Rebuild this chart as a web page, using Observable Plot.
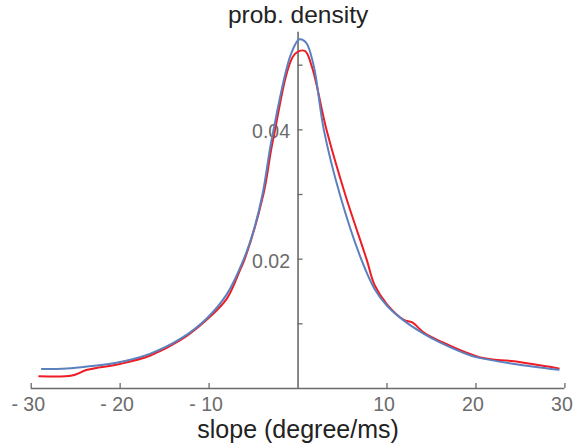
<!DOCTYPE html>
<html><head><meta charset="utf-8">
<script src="https://cdn.jsdelivr.net/npm/d3@7"></script>
<script src="https://cdn.jsdelivr.net/npm/@observablehq/plot@0.6"></script>
<style>html,body{margin:0;padding:0;background:#fff}</style>
</head><body><div id="chart"></div>
<script>
// Series (slope in degree/ms, probability density)
const blueX = [-28.8,-26,-23.7,-20,-16.6,-13.2,-10.3,-8,-6.1,-5,-4,-2.9,-0.8,0.15,0.9,1.76,2.9,4.7,7.1,8.6,10,11.9,14.1,16,19.4,20.5,24.3,29.3];
const blueY = [0.0030,0.0031,0.0034,0.0041,0.0054,0.0077,0.0108,0.0146,0.0200,0.0244,0.0300,0.0390,0.0517,0.0540,0.0535,0.0499,0.0400,0.0300,0.0200,0.0154,0.0128,0.0105,0.0085,0.0071,0.0051,0.0047,0.0038,0.0029];
const redX = [-29.1,-25.4,-23.7,-20,-16.6,-13.2,-10.3,-8,-6.5,-6,-3.9,-2.8,-0.38,0.75,1.57,3.2,5.3,7.7,8.6,10,11.9,12.8,14.1,16,20.5,24.3,29.3];
const redY = [0.0019,0.0020,0.0029,0.0038,0.0051,0.0075,0.0106,0.0139,0.0184,0.0200,0.0300,0.0385,0.0517,0.0522,0.0497,0.0400,0.0300,0.0200,0.0160,0.0130,0.0106,0.01025,0.0087,0.0073,0.0048,0.0042,0.0031];

// Axes
const xTicks = [-30,-20,-10,10,20,30];
const yTicks = [0.01,0.02,0.03,0.04,0.05];
const yLabelTicks = [0.02,0.04];
const xDomain = [-30,30];
const yDomain = [0,0.0551];
const title = "prob. density";
const xLabel = "slope (degree/ms)";

const W = 574, H = 448;
const mL = 30.7, mR = 9.6, mT = 31.7, mB = 60;
const gray = "#6b6b6b";
const font = "'Liberation Sans', Arial, Helvetica, sans-serif";
const xPerPx = (xDomain[1]-xDomain[0])/(W-mL-mR);
const yPerPx = (yDomain[1]-yDomain[0])/(H-mT-mB);
const tickLen = 5;

const blue = blueX.map((x,i)=>({x, y: blueY[i]}));
const red = redX.map((x,i)=>({x, y: redY[i]}));
const fmtX = d => d < 0 ? "- " + Math.abs(d) : String(d);

const chart = Plot.plot({
  width: W, height: H,
  marginLeft: mL, marginRight: mR, marginTop: mT, marginBottom: mB,
  x: {domain: xDomain, axis: null},
  y: {domain: yDomain, axis: null},
  style: {fontFamily: font, background: "#fff", overflow: "visible"},
  marks: [
    Plot.ruleY([0], {x1: xDomain[0], x2: xDomain[1], stroke: gray, strokeWidth: 1.6}),
    Plot.ruleX([0], {y1: 0, y2: yDomain[1], stroke: gray, strokeWidth: 1.6}),
    Plot.ruleX(xTicks, {x: d=>d, y1: 0, y2: tickLen*yPerPx, stroke: gray, strokeWidth: 1.3}),
    Plot.ruleY(yTicks, {y: d=>d, x1: 0, x2: tickLen*xPerPx, stroke: gray, strokeWidth: 1.3}),
    Plot.text(xTicks, {x: d=>d, y: 0, text: fmtX, dx: -3, dy: 22.5, lineAnchor: "bottom", textAnchor: "middle", fontSize: 19.5, fill: gray}),
    Plot.text(yLabelTicks, {x: 0, y: d=>d, text: d=>d.toFixed(2), dx: -8, dy: 8.5, lineAnchor: "bottom", textAnchor: "end", fontSize: 19.5, fill: gray}),
    Plot.line(red, {x: "x", y: "y", stroke: "#ee1c25", strokeWidth: 2, curve: "catmull-rom"}),
    Plot.line(blue, {x: "x", y: "y", stroke: "#5b80bd", strokeWidth: 2, curve: "catmull-rom"}),
    Plot.text([title], {x: 0, frameAnchor: "top", dy: -9.5, lineAnchor: "bottom", textAnchor: "middle", fontSize: 24.5, fill: "#222"}),
    Plot.text([xLabel], {x: 0, frameAnchor: "bottom", dy: 49, lineAnchor: "bottom", textAnchor: "middle", fontSize: 25, fill: "#222"})
  ]
});
document.getElementById("chart").appendChild(chart);
</script>
</body></html>
